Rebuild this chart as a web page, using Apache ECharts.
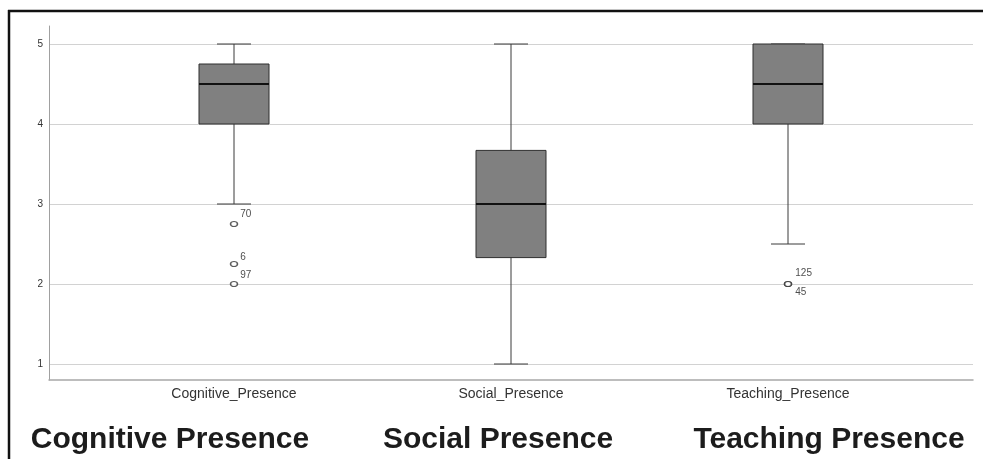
<!DOCTYPE html>
<html>
<head>
<meta charset="utf-8">
<style>
  html, body { margin: 0; padding: 0; background: #ffffff; }
  #chart { width: 983px; height: 459px; }
</style>
<script src="https://cdn.jsdelivr.net/npm/echarts@6/dist/echarts.min.js"></script>
</head>
<body>
<div id="chart"></div>
<script>
// ---- data ----
const categories = ['Cognitive_Presence', 'Social_Presence', 'Teaching_Presence'];
const titles = ['Cognitive Presence', 'Social Presence', 'Teaching Presence'];
// five-number summaries: [min whisker, Q1, median, Q3, max whisker]
const cognitiveBox = [3, 4, 4.5, 4.75, 5];
const socialBox = [1, 2.33, 3, 3.67, 5];
const teachingBox = [2.5, 4, 4.5, 5, 5];
// outliers: [category index, value, case label]
const outliers = [
  [0, 2.75, '70'],
  [0, 2.25, '6'],
  [0, 2.0, '97'],
  [2, 2.0, '125'],
  [2, 2.0, '45']
];
const yTicks = [1, 2, 3, 4, 5];

// ---- styling ----
const labelOffsets = [[0, -10], [0, -7], [0, -9], [1, -11], [1, 8]];
const titleX = [170, 498, 829];
const boxes = [cognitiveBox, socialBox, teachingBox];

const chart = echarts.init(document.getElementById('chart'), null, { renderer: 'canvas' });

const boxData = boxes.map((b, i) => [i].concat(b));

function renderBox(params, api) {
  const x = api.value(0);
  const lo = api.coord([x, api.value(1)]);
  const q1 = api.coord([x, api.value(2)]);
  const med = api.coord([x, api.value(3)]);
  const q3 = api.coord([x, api.value(4)]);
  const hi = api.coord([x, api.value(5)]);
  const cx = lo[0];
  const boxW = 70;
  const capW = 34;
  const whisk = { stroke: '#3a3a3a', lineWidth: 1 };
  return {
    type: 'group',
    children: [
      { type: 'line', shape: { x1: cx, y1: hi[1], x2: cx, y2: q3[1] }, style: whisk },
      { type: 'line', shape: { x1: cx, y1: q1[1], x2: cx, y2: lo[1] }, style: whisk },
      { type: 'line', shape: { x1: cx - capW / 2, y1: hi[1], x2: cx + capW / 2, y2: hi[1] }, style: whisk },
      { type: 'line', shape: { x1: cx - capW / 2, y1: lo[1], x2: cx + capW / 2, y2: lo[1] }, style: whisk },
      { type: 'rect', shape: { x: cx - boxW / 2, y: q3[1], width: boxW, height: q1[1] - q3[1] },
        style: { fill: '#808080', stroke: '#2e2e2e', lineWidth: 1 } },
      { type: 'line', shape: { x1: cx - boxW / 2, y1: med[1], x2: cx + boxW / 2, y2: med[1] },
        style: { stroke: '#111111', lineWidth: 2 } }
    ]
  };
}

const option = {
  backgroundColor: '#ffffff',
  animation: false,
  grid: [
    { left: 49, right: 10, top: 26, bottom: 79, containLabel: false },
    { left: 95.5, right: 56.5, top: 26, bottom: 79, containLabel: false }
  ],
  xAxis: [
    {
      gridIndex: 0, type: 'value', min: 0, max: 1,
      axisLine: { show: true, lineStyle: { color: '#a8a8a8', width: 1.5 } },
      axisTick: { show: false }, axisLabel: { show: false }, splitLine: { show: false }
    },
    {
      gridIndex: 1, type: 'category', data: categories, boundaryGap: true,
      axisLine: { show: false }, axisTick: { show: false }, splitLine: { show: false },
      axisLabel: { color: '#333333', fontSize: 14, fontFamily: 'Liberation Sans, Arial, sans-serif', margin: 7 }
    }
  ],
  yAxis: [
    {
      gridIndex: 0, type: 'value', min: 0.8, max: 5.225,
      axisLine: { show: true, lineStyle: { color: '#a0a0a0', width: 1 } },
      axisTick: { show: false, customValues: yTicks },
      axisLabel: { customValues: yTicks, color: '#333333', fontSize: 10, fontFamily: 'Liberation Sans, Arial, sans-serif', margin: 6 },
      splitLine: { show: true, lineStyle: { color: '#d2d2d2', width: 1 } }
    },
    {
      gridIndex: 1, type: 'value', min: 0.8, max: 5.225,
      axisLine: { show: false }, axisTick: { show: false }, axisLabel: { show: false }, splitLine: { show: false }
    }
  ],
  series: [
    {
      type: 'custom',
      xAxisIndex: 1, yAxisIndex: 1,
      data: boxData,
      renderItem: renderBox,
      encode: { x: 0, y: [1, 2, 3, 4, 5] },
      z: 2
    },
    {
      type: 'scatter',
      xAxisIndex: 1, yAxisIndex: 1,
      symbol: 'circle',
      symbolSize: [7, 5],
      itemStyle: { color: '#ffffff', borderColor: '#333333', borderWidth: 1.3 },
      z: 3,
      data: outliers.map((o, i) => ({
        value: [o[0], o[1], o[2]],
        label: { offset: labelOffsets[i] }
      })),
      label: {
        show: true,
        position: 'right',
        distance: 2,
        formatter: p => p.value[2],
        color: '#222222',
        fontSize: 10,
        fontFamily: 'Liberation Sans, Arial, sans-serif'
      }
    }
  ],
  graphic: [
    { type: 'line', shape: { x1: 8, y1: 11, x2: 983, y2: 11 }, style: { stroke: '#111111', lineWidth: 2.5 }, z: 10 },
    { type: 'line', shape: { x1: 9, y1: 10, x2: 9, y2: 459 }, style: { stroke: '#111111', lineWidth: 2.5 }, z: 10 }
  ].concat(titles.map((t, i) => ({
    type: 'text',
    x: titleX[i],
    y: 440,
    style: {
      text: t,
      fill: '#1c1c1c',
      font: 'bold 30px "Liberation Sans", Arial, sans-serif',
      textAlign: 'center',
      textVerticalAlign: 'middle'
    },
    z: 10
  })))
};

chart.setOption(option);
</script>
</body>
</html>
